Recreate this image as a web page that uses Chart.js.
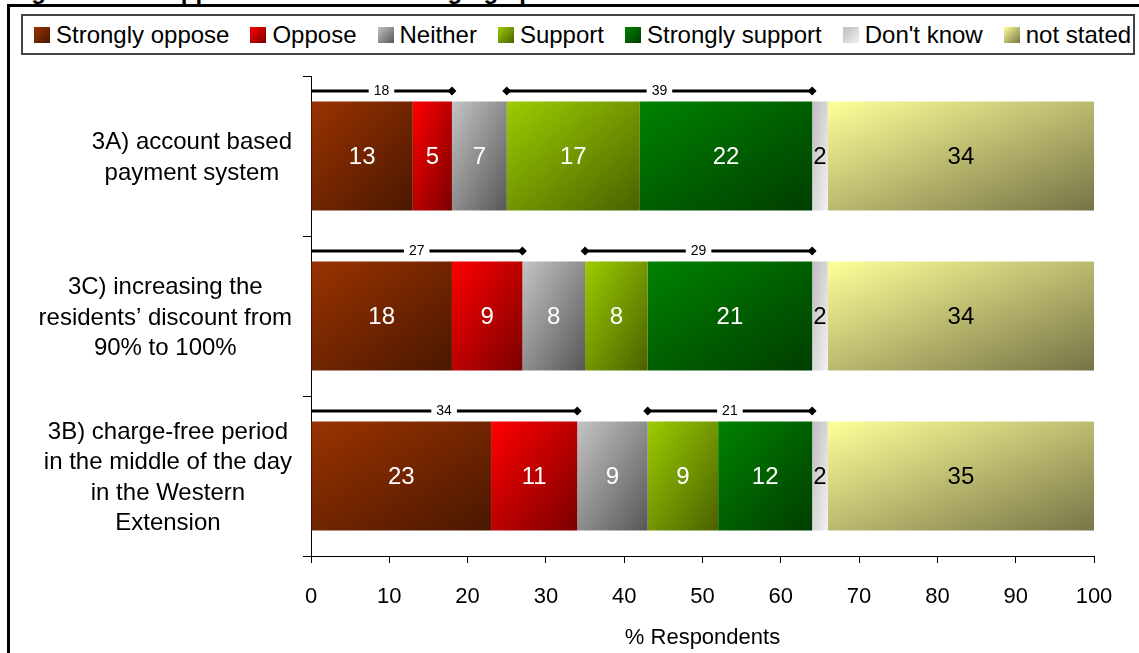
<!DOCTYPE html>
<html>
<head>
<meta charset="utf-8">
<title>Support for the charging options</title>
<script src="https://cdn.jsdelivr.net/npm/chart.js@4/dist/chart.umd.min.js"></script>
<style>
  html, body { margin: 0; padding: 0; background: #fff; overflow: hidden; }
  body { width: 1139px; height: 653px; position: relative; font-family: "Liberation Sans", Arial, sans-serif; }
  #title { position: absolute; left: 10px; top: -21px; font: bold 24px "Liberation Sans", Arial, sans-serif; line-height: 24px; white-space: nowrap; color: #000; }
  #frame { position: absolute; left: 7px; top: 4px; width: 2000px; height: 2000px; border-left: 3px solid #000; border-top: 3px solid #000; }
  #legend { position: absolute; left: 21px; top: 14px; width: 1114px; height: 41px; box-sizing: border-box; border: 2px solid #444; display: flex; align-items: center; padding-left: 11px; background: #fff; }
  .item { display: flex; align-items: center; margin-right: 21px; }
  .sw { width: 16px; height: 16px; margin-right: 6px; }
  .lbl { font-size: 24px; line-height: 1; color: #000; white-space: nowrap; }
  #chart { position: absolute; left: 0; top: 0; }
</style>
</head>
<body>
<div id="title">Figure 3.11: Support for the other charging options</div>
<div id="frame"></div>
<div id="legend"></div>
<canvas id="chart" width="1139" height="653"></canvas>
<script>
// Options asked about (one horizontal bar each, top to bottom)
const categories = [
  ["3A) account based", "payment system"],
  ["3C) increasing the", "residents\u2019 discount from", "90% to 100%"],
  ["3B) charge-free period", "in the middle of the day", "in the Western", "Extension"]
];

// Response categories
const seriesNames = ["Strongly oppose", "Oppose", "Neither", "Support", "Strongly support", "Don't know", "not stated"];

// % of respondents per option
const stronglyOppose  = [13, 18, 23];
const oppose          = [5, 9, 11];
const neither         = [7, 8, 9];
const support         = [17, 8, 9];
const stronglySupport = [22, 21, 12];
const dontKnow        = [2, 2, 2];
const notStated       = [34, 34, 35];

const seriesValues = [stronglyOppose, oppose, neither, support, stronglySupport, dontKnow, notStated];

// x axis ticks
const xTicks = [0, 10, 20, 30, 40, 50, 60, 70, 80, 90, 100];

// gradient end colours (light top-left -> bottom-right) and label colour per series
const seriesGradients = [
  ["#9a3300", "#4a1700"],
  ["#ff0000", "#7a0000"],
  ["#c4c4c4", "#575757"],
  ["#9ccc00", "#4a6100"],
  ["#008200", "#003d00"],
  ["#bdbdbd", "#f2f2f2"],
  ["#ffff99", "#767446"]
];
const labelColours = ["#fff", "#fff", "#fff", "#fff", "#fff", "#000", "#000"];

const BAR_FRACTION = 0.68;
const FONT = '"Liberation Sans", Arial, sans-serif';

// HTML legend
const legendEl = document.getElementById('legend');
seriesNames.forEach((name, i) => {
  const item = document.createElement('div');
  item.className = 'item';
  const sw = document.createElement('div');
  sw.className = 'sw';
  sw.style.background = `linear-gradient(135deg, ${seriesGradients[i][0]}, ${seriesGradients[i][1]})`;
  const lbl = document.createElement('span');
  lbl.className = 'lbl';
  lbl.textContent = name;
  item.appendChild(sw);
  item.appendChild(lbl);
  legendEl.appendChild(item);
});

// Diagonal gradient in the segment's own normalised box (like office chart fills)
function segmentFill(ctx, s) {
  const chart = ctx.chart;
  const xs = chart.scales.x, ys = chart.scales.y;
  if (ctx.type !== 'data' || !xs || !ys) return seriesGradients[s][0];
  const i = ctx.dataIndex;
  let start = 0;
  for (let k = 0; k < s; k++) start += seriesValues[k][i];
  const end = start + seriesValues[s][i];
  const x0 = xs.getPixelForValue(start);
  const x1 = xs.getPixelForValue(end);
  const band = (ys.bottom - ys.top) / categories.length;
  const h = band * BAR_FRACTION;
  const y0 = ys.getPixelForValue(i) - h / 2;
  const w = Math.max(1, x1 - x0);
  if (![x0, x1, y0, h, w].every(Number.isFinite) || h <= 0) return seriesGradients[s][0];
  const k = 2 * w * h / (w * w + h * h);
  const g = chart.ctx.createLinearGradient(x0, y0, x0 + h * k, y0 + w * k);
  g.addColorStop(0, seriesGradients[s][0]);
  g.addColorStop(1, seriesGradients[s][1]);
  return g;
}

// Category labels: right-aligned block, lines centred within the block
const categoryLabels = {
  id: 'categoryLabels',
  afterDraw(chart) {
    const ys = chart.scales.y;
    const c = chart.ctx;
    c.save();
    c.font = `24px ${FONT}`;
    c.fillStyle = '#000';
    c.textAlign = 'center';
    c.textBaseline = 'middle';
    const right = chart.chartArea.left - 19;
    const lh = 30.5;
    categories.forEach((lines, i) => {
      const widest = Math.max(...lines.map(l => c.measureText(l).width));
      const cx = right - widest / 2;
      const cy = ys.getPixelForValue(i) + 2;
      lines.forEach((l, j) => {
        c.fillText(l, cx, cy + (j - (lines.length - 1) / 2) * lh);
      });
    });
    c.restore();
  }
};

// Values printed in the middle of each segment
const valueLabels = {
  id: 'valueLabels',
  afterDatasetsDraw(chart) {
    const c = chart.ctx;
    const area = chart.chartArea;
    c.save();
    c.font = `24px ${FONT}`;
    c.textAlign = 'center';
    c.textBaseline = 'middle';
    chart.data.datasets.forEach((ds, s) => {
      const meta = chart.getDatasetMeta(s);
      meta.data.forEach((el, i) => {
        const a = Math.max(area.left, Math.min(el.base, el.x));
        const b = Math.min(area.right, Math.max(el.base, el.x));
        c.fillStyle = labelColours[s];
        c.fillText(String(ds.data[i]), (a + b) / 2, el.y + 1.5);
      });
    });
    c.restore();
  }
};

// Opposition / support totals drawn as brackets above each bar
const brackets = {
  id: 'brackets',
  afterDatasetsDraw(chart) {
    const xs = chart.scales.x;
    const c = chart.ctx;
    const meta = chart.getDatasetMeta(0);
    function diamond(x, y) {
      c.beginPath();
      c.moveTo(x, y - 4.5);
      c.lineTo(x + 4.5, y);
      c.lineTo(x, y + 4.5);
      c.lineTo(x - 4.5, y);
      c.closePath();
      c.fill();
    }
    function bracket(v0, v1, total, y, leftMark) {
      const x0 = xs.getPixelForValue(v0), x1 = xs.getPixelForValue(v1);
      c.lineWidth = 3;
      c.strokeStyle = '#000';
      c.fillStyle = '#000';
      c.beginPath();
      c.moveTo(x0, y);
      c.lineTo(x1, y);
      c.stroke();
      if (leftMark) diamond(x0, y);
      diamond(x1, y);
      const txt = String(total);
      c.font = `14px ${FONT}`;
      const tw = c.measureText(txt).width;
      const cx = (x0 + x1) / 2;
      c.fillStyle = '#fff';
      c.fillRect(cx - tw / 2 - 5, y - 5, tw + 10, 10);
      c.fillStyle = '#000';
      c.textAlign = 'center';
      c.textBaseline = 'middle';
      c.fillText(txt, cx, y);
    }
    c.save();
    categories.forEach((_, i) => {
      const el = meta.data[i];
      const y = el.y - el.height / 2 - 10.5;
      const against = stronglyOppose[i] + oppose[i];
      const forStart = against + neither[i];
      const inFavour = support[i] + stronglySupport[i];
      bracket(0, against, against, y, false);
      bracket(forStart, forStart + inFavour, inFavour, y, true);
    });
    c.restore();
  }
};

const datasets = seriesNames.map((name, s) => ({
  label: name,
  data: seriesValues[s],
  backgroundColor: (ctx) => segmentFill(ctx, s),
  borderWidth: 0,
  barPercentage: BAR_FRACTION,
  categoryPercentage: 1
}));

new Chart(document.getElementById('chart'), {
  type: 'bar',
  data: { labels: categories.map(l => l.join(' ')), datasets },
  options: {
    indexAxis: 'y',
    responsive: false,
    animation: false,
    devicePixelRatio: 1,
    layout: { padding: { top: 76, right: 45, bottom: 0, left: 0 } },
    plugins: { legend: { display: false }, tooltip: { enabled: false } },
    scales: {
      x: {
        stacked: true,
        min: 0,
        max: 100,
        afterBuildTicks: (scale) => { scale.ticks = xTicks.map(v => ({ value: v })); },
        afterFit: (scale) => { scale.height = 97; },
        grid: { drawOnChartArea: false, drawTicks: true, tickLength: 7, color: '#000', lineWidth: 1 },
        border: { display: true, color: '#000', width: 1 },
        ticks: { color: '#000', padding: 21, font: { family: FONT, size: 22 }, maxRotation: 0, autoSkip: false },
        title: { display: true, text: '% Respondents', color: '#000', font: { family: FONT, size: 22 }, padding: { top: 0, bottom: 2 } }
      },
      y: {
        stacked: true,
        afterFit: (scale) => { scale.width = 311; },
        grid: { offset: true, drawOnChartArea: false, drawTicks: true, tickLength: 8, color: '#000', lineWidth: 1 },
        border: { display: true, color: '#000', width: 1 },
        ticks: { display: false }
      }
    }
  },
  plugins: [categoryLabels, valueLabels, brackets]
});
</script>
</body>
</html>
